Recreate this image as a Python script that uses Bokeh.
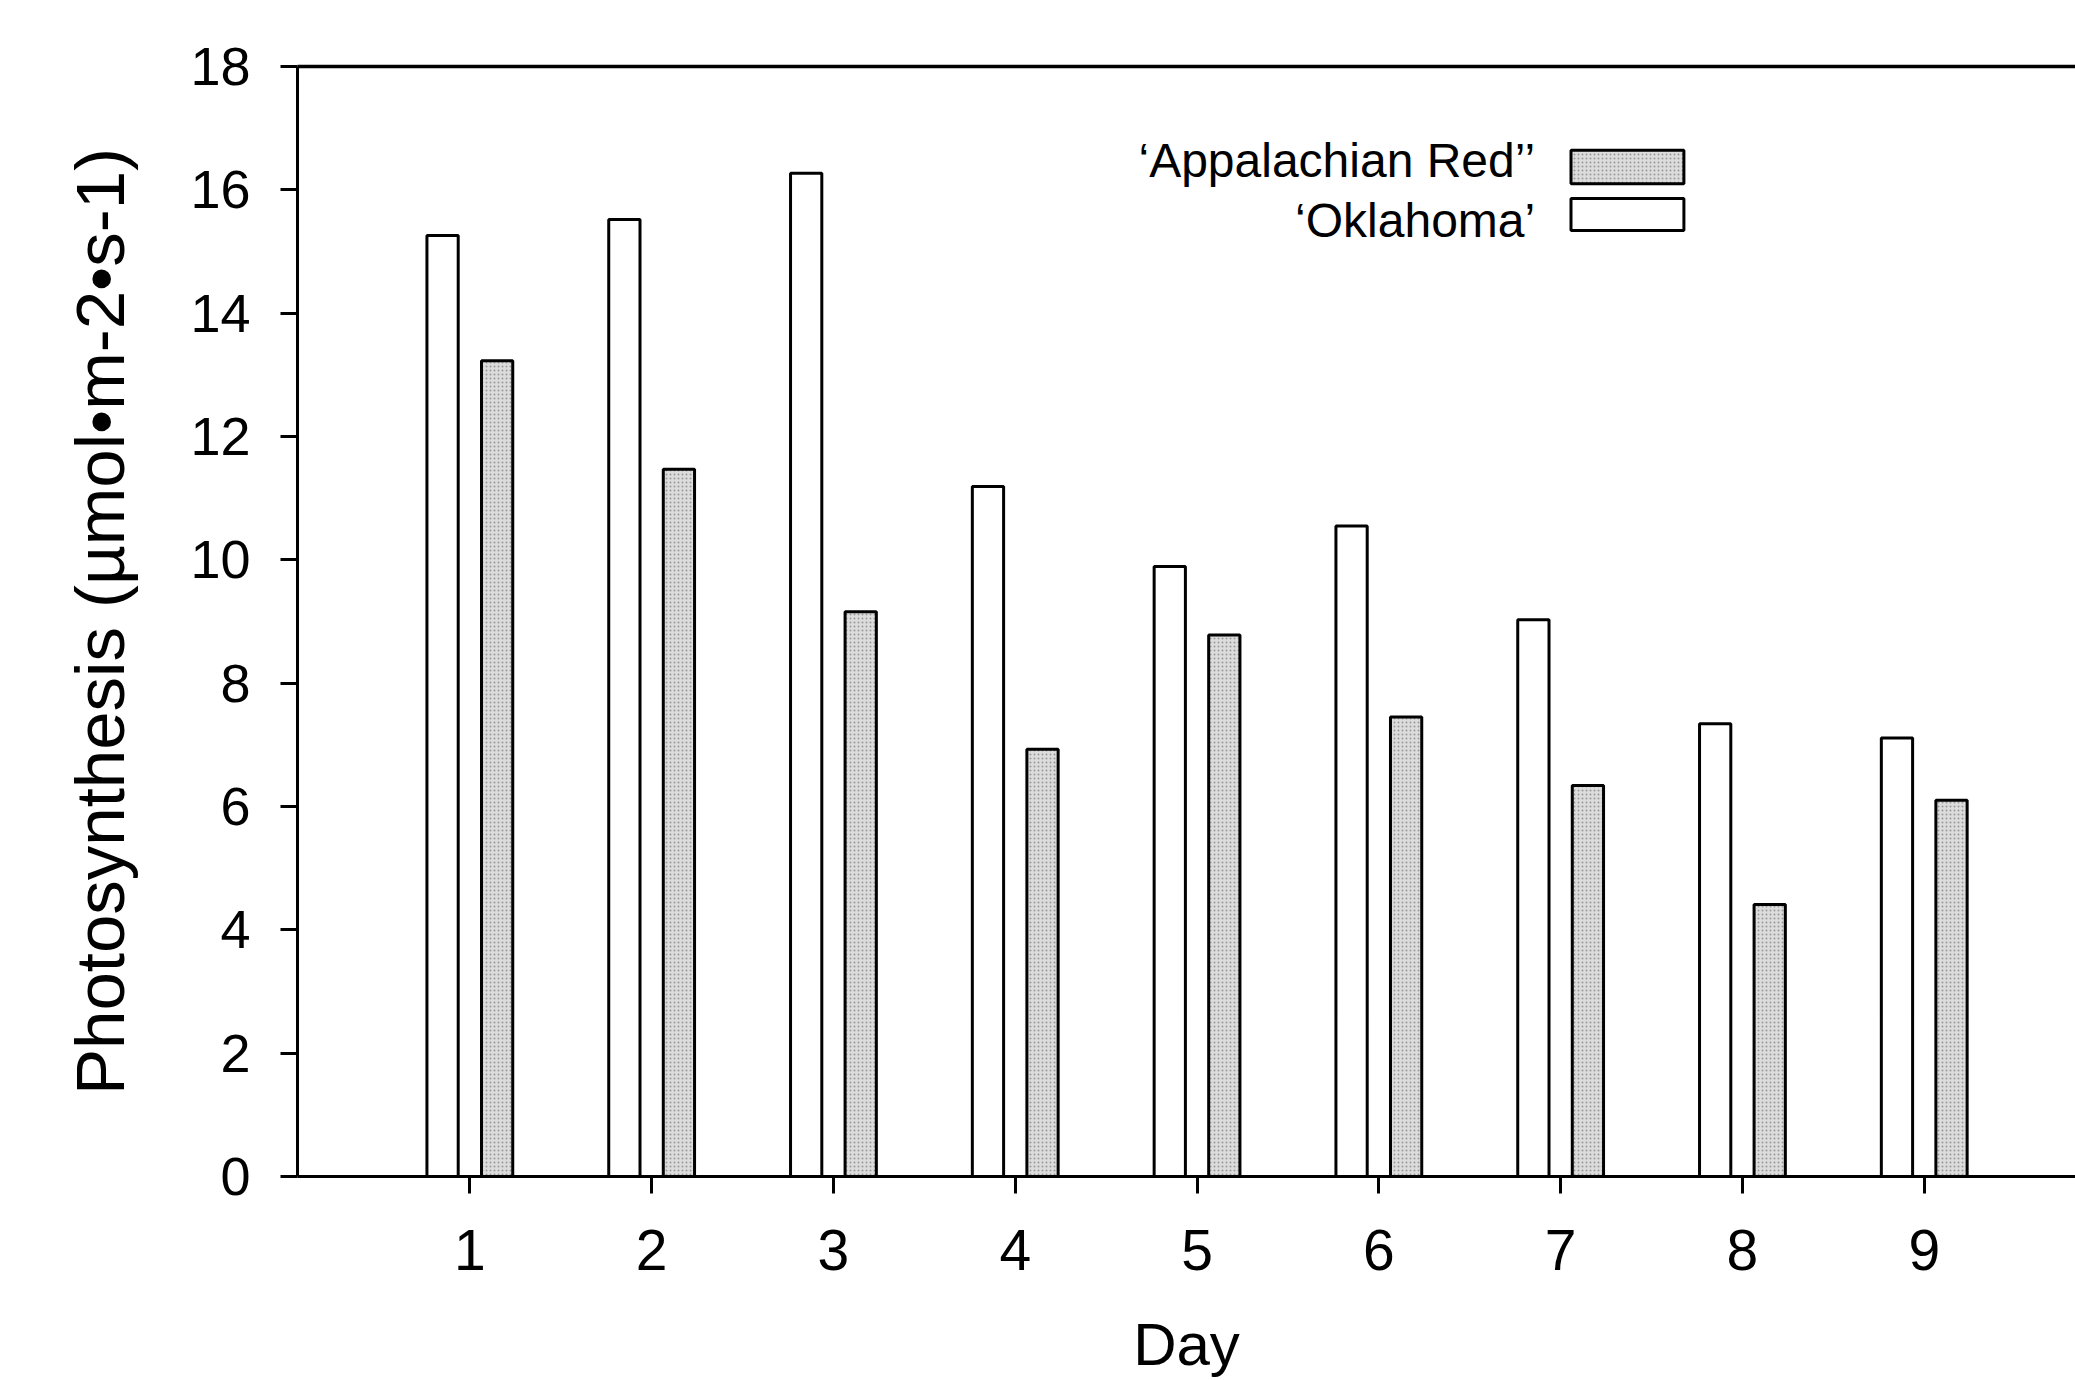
from bokeh.plotting import figure
from bokeh.models import ColumnDataSource, FixedTicker, LinearAxis, Label, Range1d
from bokeh.embed import file_html
from bokeh.resources import INLINE
import numpy as np

days = [1, 2, 3, 4, 5, 6, 7, 8, 9]
oklahoma = [15.26, 15.52, 16.27, 11.19, 9.89, 10.55, 9.03, 7.34, 7.11]
appalachian = [13.23, 11.47, 9.16, 6.93, 8.78, 7.45, 6.34, 4.41, 6.10]
y_ticks = [0, 2, 4, 6, 8, 10, 12, 14, 16, 18]
legend_labels = ["\u2018Appalachian Red\u2019\u2019", "\u2018Oklahoma\u2019"]

FONT = "Liberation Sans"
OFFSET = 0.15
BAR_W = 0.172

p = figure(width=2075, height=1380, output_backend="svg", toolbar_location=None,
           x_range=Range1d(0.052, 9.832), y_range=Range1d(0, 18),
           min_border_left=297, min_border_right=0, min_border_top=66, min_border_bottom=203)
p.outline_line_color = None
p.xgrid.visible = False
p.ygrid.visible = False
p.background_fill_color = "white"
p.border_fill_color = "white"

src = ColumnDataSource(dict(
    x_ok=np.array(days) - OFFSET, ok=oklahoma,
    x_ap=np.array(days) + OFFSET, ap=appalachian,
))
p.vbar(x="x_ok", top="ok", width=BAR_W, source=src, fill_color="white",
       line_color="black", line_width=3)
p.vbar(x="x_ap", top="ap", width=BAR_W, source=src, fill_color="#dcdcdc",
       hatch_pattern=".", hatch_color="#9a9a9a", hatch_scale=4, hatch_weight=1,
       line_color="black", line_width=3)

for ax in (p.xaxis[0], p.yaxis[0]):
    ax.axis_line_width = 3
    ax.axis_line_color = "black"
    ax.major_tick_line_width = 3
    ax.major_tick_line_color = "black"
    ax.major_tick_in = 0
    ax.major_tick_out = 17
    ax.minor_tick_line_color = None
    ax.major_label_text_font = FONT
    ax.major_label_text_color = "black"

p.xaxis.ticker = FixedTicker(ticks=days)
p.xaxis.major_label_text_font_size = "57px"
p.xaxis.major_label_standoff = 36
p.xaxis.axis_label = "Day"
p.xaxis.axis_label_text_font = FONT
p.xaxis.axis_label_text_font_size = "60px"
p.xaxis.axis_label_text_font_style = "normal"
p.xaxis.axis_label_text_color = "black"
p.xaxis.axis_label_standoff = 38

p.yaxis.ticker = FixedTicker(ticks=y_ticks)
p.yaxis.major_label_text_font_size = "54px"
p.yaxis.major_label_standoff = 30
p.yaxis.axis_label = "Photosynthesis (\u00b5mol\u2022m-2\u2022s-1)"
p.yaxis.axis_label_text_font = FONT
p.yaxis.axis_label_text_font_size = "69px"
p.yaxis.axis_label_text_font_style = "normal"
p.yaxis.axis_label_text_color = "black"
p.yaxis.axis_label_standoff = 48

top = LinearAxis(ticker=FixedTicker(ticks=[]), axis_line_width=3.5, axis_line_color="black",
                 major_tick_line_color=None, minor_tick_line_color=None,
                 major_label_text_font_size="0px")
p.add_layout(top, "above")

# legend (text left of swatch, as in the reference)
p.quad(left=[7.057], right=[7.678], bottom=[16.10], top=[16.64], fill_color="#dcdcdc",
       hatch_pattern=".", hatch_color="#9a9a9a", hatch_scale=4, hatch_weight=1,
       line_color="black", line_width=3)
p.quad(left=[7.057], right=[7.678], bottom=[15.34], top=[15.86], fill_color="white",
       line_color="black", line_width=3)
for lab, yy in zip(legend_labels, [16.48, 15.50]):
    p.add_layout(Label(x=6.86, y=yy, text=lab, text_align="right", text_baseline="middle",
                       text_font=FONT, text_font_size="48px", text_color="black"))

open("out.html", "w").write(file_html(p, INLINE))
